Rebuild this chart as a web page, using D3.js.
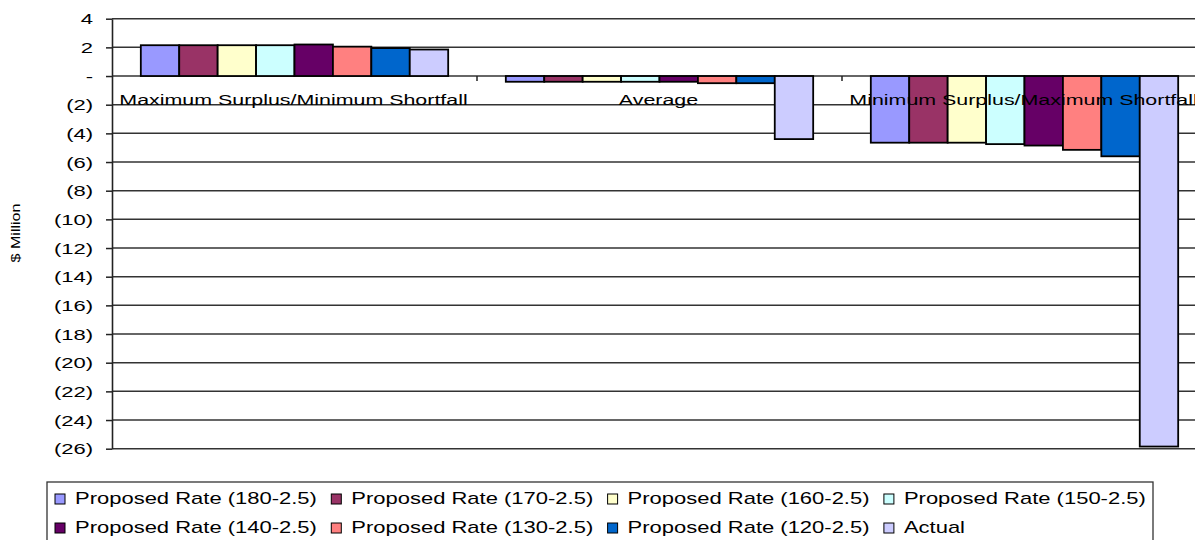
<!DOCTYPE html>
<html>
<head>
<meta charset="utf-8">
<script src="https://cdn.jsdelivr.net/npm/d3@7/dist/d3.min.js"></script>
<style>
  html, body { margin: 0; padding: 0; background: #fff; }
  svg { display: block; font-family: "Liberation Sans", Arial, sans-serif; }
</style>
</head>
<body>
<svg id="chart" width="1195" height="540"></svg>
<script>
// Categories along the x axis
const categories = [
  "Maximum Surplus/Minimum Shortfall",
  "Average",
  "Minimum Surplus/Maximum Shortfall"
];

// Series (one bar per series inside each category)
const seriesNames = [
  "Proposed Rate (180-2.5)",
  "Proposed Rate (170-2.5)",
  "Proposed Rate (160-2.5)",
  "Proposed Rate (150-2.5)",
  "Proposed Rate (140-2.5)",
  "Proposed Rate (130-2.5)",
  "Proposed Rate (120-2.5)",
  "Actual"
];

// $ Million, per series, for each category
const maxSurplusValues = [2.15, 2.15, 2.15, 2.15, 2.2, 2.05, 1.95, 1.85];
const averageValues    = [-0.4, -0.4, -0.4, -0.4, -0.4, -0.5, -0.5, -4.4];
const minSurplusValues = [-4.65, -4.65, -4.65, -4.75, -4.85, -5.15, -5.6, -25.85];

// Y axis ticks
const yTicks = [4, 2, 0, -2, -4, -6, -8, -10, -12, -14, -16, -18, -20, -22, -24, -26];

const seriesColors = ["#9999FF", "#993366", "#FFFFCC", "#CCFFFF", "#660066", "#FF8080", "#0066CC", "#CCCCFF"];

const valuesByCategory = [maxSurplusValues, averageValues, minSurplusValues];
const table = categories.map((c, ci) => ({
  category: c,
  bars: seriesNames.map((s, si) => ({ series: s, value: valuesByCategory[ci][si] }))
}));

const svg = d3.select("#chart");
const plotLeft = 112, plotRight = 1207, plotTop = 18.7, plotBottom = 448.7;
const sx = 22;     // horizontal px per em for axis and legend text
const sxCat = 21.4; // horizontal px per em for category labels

const y = d3.scaleLinear().domain([-26, 4]).range([plotBottom, plotTop]);
const x0 = d3.scaleBand().domain(categories).range([plotLeft, plotRight]).padding(0);
const x1 = d3.scaleBand().domain(seriesNames).range([0, x0.bandwidth()])
  .paddingInner(0).paddingOuter(0.75);
const color = d3.scaleOrdinal().domain(seriesNames).range(seriesColors);

const fmt = v => v === 0 ? "-" : (v < 0 ? "(" + Math.abs(v) + ")" : String(v));

// Horizontal gridlines
svg.append("g")
  .selectAll("line")
  .data(yTicks)
  .join("line")
  .attr("x1", plotLeft).attr("x2", plotRight)
  .attr("y1", d => y(d)).attr("y2", d => y(d))
  .attr("stroke", "#333").attr("stroke-width", 1.5);

// Bars
const groups = svg.append("g")
  .selectAll("g")
  .data(table)
  .join("g")
  .attr("transform", d => `translate(${x0(d.category)},0)`);

groups.selectAll("rect")
  .data(d => d.bars)
  .join("rect")
  .attr("x", d => x1(d.series))
  .attr("width", x1.bandwidth())
  .attr("y", d => y(Math.max(0, d.value)))
  .attr("height", d => Math.abs(y(d.value) - y(0)))
  .attr("fill", d => color(d.series))
  .attr("stroke", "#000")
  .attr("stroke-width", 1.8);

// Y axis
const yAxis = svg.append("g")
  .attr("transform", `translate(${plotLeft},0)`)
  .call(d3.axisLeft(y).tickValues(yTicks).tickSize(6).tickSizeOuter(0).tickFormat(fmt));
yAxis.select(".domain").attr("stroke", "#222").attr("stroke-width", 1.6);
yAxis.selectAll(".tick line").attr("stroke", "#222").attr("stroke-width", 1.5);
yAxis.selectAll(".tick text")
  .attr("x", null).attr("dy", null)
  .attr("text-anchor", "end")
  .attr("font-size", 14)
  .attr("font-family", "Liberation Sans, Arial, sans-serif")
  .attr("fill", "#000")
  .attr("transform", `translate(-19,5) scale(${sx / 14},1)`);

// Category tick marks on the zero line
svg.append("g")
  .selectAll("line")
  .data(categories.slice(1))
  .join("line")
  .attr("x1", d => x0(d)).attr("x2", d => x0(d))
  .attr("y1", y(0)).attr("y2", y(0) + 5)
  .attr("stroke", "#222").attr("stroke-width", 1.5);

// Category labels
svg.append("g")
  .selectAll("text")
  .data(categories)
  .join("text")
  .attr("text-anchor", "middle")
  .attr("font-size", 14)
  .attr("fill", "#000")
  .attr("transform", d => `translate(${x0(d) + x0.bandwidth() / 2 - 1},105) scale(${sxCat / 14},1)`)
  .text(d => d);

// Y axis title
svg.append("text")
  .attr("text-anchor", "middle")
  .attr("font-size", 13)
  .attr("fill", "#000")
  .attr("transform", "translate(20,233) rotate(-90) scale(1.24,1)")
  .text("$ Million");

// Legend
const legend = svg.append("g");
legend.append("rect")
  .attr("x", 47).attr("y", 482)
  .attr("width", 1106).attr("height", 80)
  .attr("fill", "#fff").attr("stroke", "#333").attr("stroke-width", 1.3);

const item = legend.selectAll("g.item")
  .data(seriesNames)
  .join("g")
  .attr("class", "item")
  .attr("transform", (d, i) => `translate(${75 + (i % 4) * 276.3},${504 + Math.floor(i / 4) * 29})`);

item.append("rect")
  .attr("x", -20).attr("y", -10)
  .attr("width", 10).attr("height", 10)
  .attr("fill", d => color(d))
  .attr("stroke", "#000").attr("stroke-width", 1);

item.append("text")
  .attr("font-size", 17)
  .attr("fill", "#000")
  .attr("transform", `scale(${sx / 17},1)`)
  .text(d => d);
</script>
</body>
</html>
